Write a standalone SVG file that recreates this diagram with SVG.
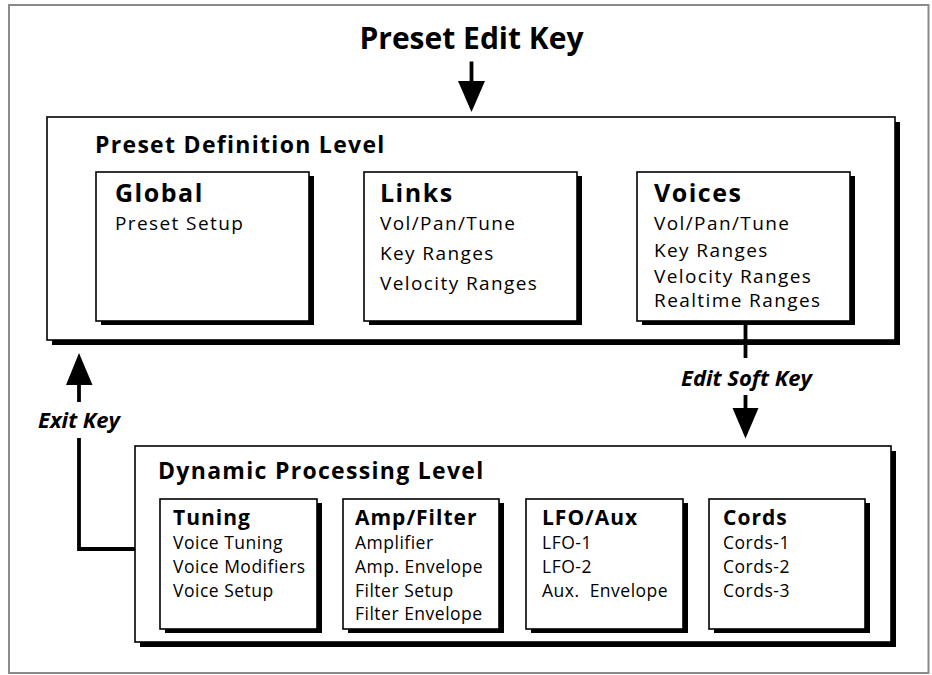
<svg xmlns="http://www.w3.org/2000/svg" width="932" height="675" viewBox="0 0 932 675">
<style>
  text { font-family: "Open Sans", "Liberation Sans", sans-serif; fill: #000; }
  .title { font-size: 30px; font-weight: bold; }
  .level { font-size: 23px; font-weight: bold; letter-spacing: 1.3px; }
  .head { font-size: 25px; font-weight: bold; letter-spacing: 1.5px; }
  .item { font-size: 19px; letter-spacing: 1.4px; }
  .shead { font-size: 21px; font-weight: bold; letter-spacing: 1px; }
  .sitem { font-size: 17.5px; letter-spacing: 0.5px; }
  .key { font-size: 22px; font-weight: bold; font-style: italic; }
  .box { fill: #fff; stroke: #000; stroke-width: 1.6; }
  .shadow { fill: #000; }
  .wire { stroke: #000; stroke-width: 3.8; fill: none; }
  .tip { fill: #000; }
</style>
<rect x="0" y="0" width="932" height="675" fill="#fff"/>
<rect id="frame" x="9" y="5" width="919.5" height="668" fill="none" stroke="#8a8a8a" stroke-width="2"/>

<g id="title">
  <text class="title" x="471.5" y="48.5" text-anchor="middle">Preset Edit Key</text>
</g>

<g id="preset-definition-level">
  <rect class="shadow" x="52" y="122" width="848" height="223"/>
  <rect class="box" x="47" y="117" width="848" height="223"/>
  <text class="level" x="95" y="153">Preset Definition Level</text>
</g>

<g id="global">
  <rect class="shadow" x="101" y="176" width="213" height="149"/>
  <rect class="box" x="96" y="172" width="213" height="149"/>
  <text class="head" x="115" y="202">Global</text>
  <text class="item" x="115" y="230">Preset Setup</text>
</g>

<g id="links">
  <rect class="shadow" x="369" y="176" width="213" height="149"/>
  <rect class="box" x="364" y="172" width="213" height="149"/>
  <text class="head" x="380" y="202">Links</text>
  <text class="item" x="380" y="230">Vol/Pan/Tune</text>
  <text class="item" x="380" y="260">Key Ranges</text>
  <text class="item" x="380" y="290">Velocity Ranges</text>
</g>

<g id="voices">
  <rect class="shadow" x="642" y="176" width="213" height="149"/>
  <rect class="box" x="637" y="172" width="213" height="149"/>
  <text class="head" x="654" y="202">Voices</text>
  <text class="item" x="654" y="230">Vol/Pan/Tune</text>
  <text class="item" x="654" y="256.5">Key Ranges</text>
  <text class="item" x="654" y="282.5">Velocity Ranges</text>
  <text class="item" x="654" y="307">Realtime Ranges</text>
</g>

<g id="dynamic-processing-level">
  <rect class="shadow" x="140" y="451" width="756" height="196"/>
  <rect class="box" x="135" y="446" width="756" height="196"/>
  <text class="level" x="158" y="479">Dynamic Processing Level</text>
</g>

<g id="tuning">
  <rect class="shadow" x="165" y="503" width="157" height="130"/>
  <rect class="box" x="160" y="499" width="157" height="130"/>
  <text class="shead" x="173" y="525">Tuning</text>
  <text class="sitem" x="173" y="549">Voice Tuning</text>
  <text class="sitem" x="173" y="573">Voice Modifiers</text>
  <text class="sitem" x="173" y="597">Voice Setup</text>
</g>

<g id="amp-filter">
  <rect class="shadow" x="348" y="503" width="156" height="130"/>
  <rect class="box" x="343" y="499" width="156" height="130"/>
  <text class="shead" x="355" y="525">Amp/Filter</text>
  <text class="sitem" x="355" y="549">Amplifier</text>
  <text class="sitem" x="355" y="573">Amp. Envelope</text>
  <text class="sitem" x="355" y="597">Filter Setup</text>
  <text class="sitem" x="355" y="619.5">Filter Envelope</text>
</g>

<g id="lfo-aux">
  <rect class="shadow" x="531" y="503" width="157" height="130"/>
  <rect class="box" x="526" y="499" width="157" height="130"/>
  <text class="shead" x="542" y="525">LFO/Aux</text>
  <text class="sitem" x="542" y="549">LFO-1</text>
  <text class="sitem" x="542" y="573">LFO-2</text>
  <text class="sitem" x="542" y="597" xml:space="preserve">Aux.  Envelope</text>
</g>

<g id="cords">
  <rect class="shadow" x="714" y="503" width="156" height="130"/>
  <rect class="box" x="709" y="499" width="156" height="130"/>
  <text class="shead" x="723" y="525">Cords</text>
  <text class="sitem" x="723" y="549">Cords-1</text>
  <text class="sitem" x="723" y="573">Cords-2</text>
  <text class="sitem" x="723" y="597">Cords-3</text>
</g>

<g id="connectors">
  <!-- Preset Edit Key arrow -->
  <line class="wire" x1="471.5" y1="61.5" x2="471.5" y2="84"/>
  <polygon class="tip" points="458,81 485,81 471.5,112"/>
  <!-- Edit Soft Key -->
  <line class="wire" x1="745.5" y1="325" x2="745.5" y2="358"/>
  <line class="wire" x1="745.5" y1="395" x2="745.5" y2="411"/>
  <polygon class="tip" points="732.5,408 758.5,408 745.5,438.5"/>
  <text class="key" x="681" y="386">Edit Soft Key</text>
  <!-- Exit Key -->
  <polyline class="wire" points="135,549 79,549 79,438"/>
  <line class="wire" x1="79" y1="402" x2="79" y2="382"/>
  <polygon class="tip" points="66,385 92.5,385 79,353"/>
  <text class="key" x="38" y="428">Exit Key</text>
</g>
</svg>
